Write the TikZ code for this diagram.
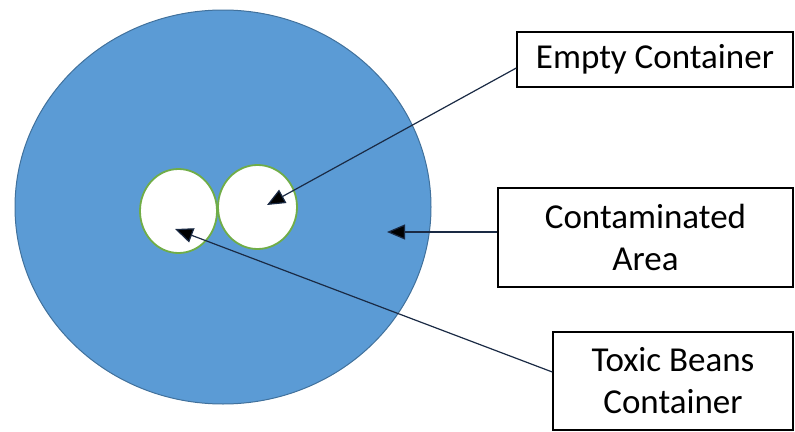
\documentclass[tikz,border=0pt]{standalone}
\usepackage{fontspec}
\setmainfont{Carlito}
\usepackage{xcolor}
\usetikzlibrary{arrows.meta, positioning, calc, shapes.geometric}

\definecolor{areablue}{HTML}{5B9BD5}
\definecolor{areaedge}{HTML}{41719C}
\definecolor{canedge}{HTML}{70AD47}
\definecolor{linenavy}{HTML}{1A2A44}

\begin{document}
\begin{tikzpicture}[x=1pt, y=-1pt,
    label box/.style={rectangle, draw=black, line width=1.4pt, fill=white,
        inner sep=0pt, align=center, font=\fontsize{35}{42}\selectfont},
    can/.style={ellipse, draw=canedge, line width=1.8pt, fill=white,
        minimum width=77pt, minimum height=84pt, inner sep=0pt},
    pointer/.style={draw=linenavy, line width=1.2pt,
        -{Triangle[length=18pt, width=15pt, fill=black]}}]
    \useasboundingbox (0,0) rectangle (795,431);

    % contaminated area and the two containers
    \node[ellipse, draw=areaedge, line width=1pt, fill=areablue,
        minimum width=416pt, minimum height=394pt, inner sep=0pt] (area) at (223,207) {};
    \node[can] (beans) at (178.5,211) {};
    \node[can, minimum width=79pt] (empty can) at (257.5,207) {};

    % labels
    \node[label box, minimum width=276pt, minimum height=55pt] (empty) at (655,59.5) {Empty Container};
    \node[label box, minimum width=295pt, minimum height=99pt] (contam) at (645.5,237.5) {Contaminated\\Area};
    \node[label box, minimum width=240pt, minimum height=98pt] (toxic) at (673,381) {Toxic Beans\\Container};

    \coordinate (empty tip) at (267,205);
    \coordinate (contam tip) at (387,232);
    \coordinate (toxic tip) at (175,229);

    % yshift is in page units, so positive is upwards here
    \draw[pointer] ([yshift=-8.5pt]empty.west) -- (empty tip);
    \draw[pointer] ([yshift=5.5pt]contam.west) -- (contam tip);
    \draw[pointer] ([yshift=9pt]toxic.west) -- (toxic tip);
\end{tikzpicture}
\end{document}
